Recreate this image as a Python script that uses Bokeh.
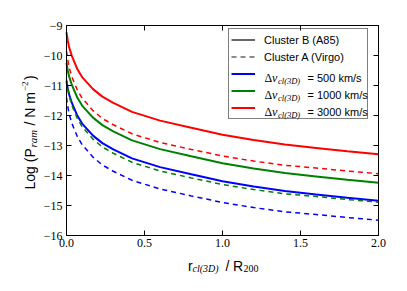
import math
from bokeh.plotting import figure
from bokeh.models import Range1d, LinearAxis, Legend, LegendItem, Label, FixedTicker
from bokeh.embed import file_html
from bokeh.resources import INLINE

# radius r_cl(3D)/R200
r = [0, 0.008, 0.017, 0.035, 0.07, 0.1, 0.17, 0.23, 0.3, 0.42, 0.6, 0.8, 1.0, 1.2, 1.4, 1.6, 1.8, 2.0]

# Cluster B (A85), solid
b3000 = [-9.23, -9.5, -9.73, -10.02, -10.46, -10.72, -11.12, -11.37, -11.58, -11.88, -12.17, -12.41, -12.64, -12.82, -12.97, -13.08, -13.19, -13.29]
b1000 = [-10.25, -10.5, -10.7, -10.99, -11.41, -11.67, -12.07, -12.32, -12.53, -12.83, -13.12, -13.36, -13.59, -13.77, -13.92, -14.03, -14.14, -14.24]
b500 = [-10.85, -11.1, -11.3, -11.59, -12.01, -12.27, -12.67, -12.92, -13.13, -13.43, -13.72, -13.96, -14.19, -14.37, -14.52, -14.63, -14.74, -14.84]

# Cluster A (Virgo), dashed
a3000 = [-9.85, -10.15, -10.4, -10.72, -11.16, -11.42, -11.84, -12.1, -12.31, -12.61, -12.9, -13.13, -13.35, -13.52, -13.66, -13.75, -13.85, -13.94]
a1000 = [-10.8, -11.1, -11.35, -11.67, -12.11, -12.37, -12.79, -13.05, -13.26, -13.56, -13.85, -14.08, -14.3, -14.47, -14.61, -14.7, -14.8, -14.89]
a500 = [-11.4, -11.7, -11.95, -12.27, -12.71, -12.97, -13.39, -13.65, -13.86, -14.16, -14.45, -14.68, -14.9, -15.07, -15.21, -15.3, -15.4, -15.49]

x_ticks = [0.0, 0.5, 1.0, 1.5, 2.0]
x_tick_labels = ["0.0", "0.5", "1.0", "1.5", "2.0"]
y_ticks = [-16, -15, -14, -13, -12, -11, -10, -9]
y_tick_labels = ["\u221216", "\u221215", "\u221214", "\u221213", "\u221212", "\u221211", "\u221210", "\u22129"]

legend_labels = ["Cluster B (A85)", "Cluster A (Virgo)"]
velocities = ["500 km/s", "1000 km/s", "3000 km/s"]

BLUE, GREEN, RED, GRAY = "#0000ff", "#008000", "#ff0000", "#666666"

# layout: figure 391x275; the axes box spans px 66..378 (x) and 25..235 (y)
W, H = 391, 275
L, R, T, B = 66, 378, 25, 235
XMIN, XMAX, YMIN, YMAX = 0.0, 2.0, -16.0, -9.0
sx = (XMAX - XMIN) / (R - L)
sy = (YMAX - YMIN) / (B - T)

p = figure(width=W, height=H, output_backend="svg", toolbar_location=None,
           x_range=Range1d(XMIN - L * sx, XMAX + (W - R) * sx),
           y_range=Range1d(YMIN - (H - B) * sy, YMAX + T * sy),
           x_axis_location=None, y_axis_location=None,
           min_border_left=0, min_border_right=0, min_border_top=0, min_border_bottom=0)
p.grid.visible = False
p.outline_line_color = None
p.background_fill_color = "white"
p.border_fill_color = "white"

def make_axis(ticks, labels, fixed, bounds, show_labels):
    ax = LinearAxis(fixed_location=fixed, bounds=bounds)
    ax.ticker = FixedTicker(ticks=ticks)
    ax.axis_line_color = "black"
    ax.axis_line_width = 1
    ax.major_tick_line_color = "black"
    ax.major_tick_in = 5
    ax.major_tick_out = 0
    ax.minor_tick_line_color = None
    ax.major_label_text_font = "Liberation Serif"
    ax.major_label_text_font_size = "12px"
    ax.major_label_text_color = "black" if show_labels else None
    if show_labels:
        ax.major_label_overrides = dict(zip(ticks, labels))
    return ax

xb = make_axis(x_ticks, x_tick_labels, YMIN, (XMIN, XMAX), True)
xb.major_label_standoff = 3
yl = make_axis(y_ticks, y_tick_labels, XMIN, (YMIN, YMAX), True)
yl.major_label_standoff = 4
xt = make_axis(x_ticks, x_tick_labels, YMAX, (XMIN, XMAX), False)
yr = make_axis(y_ticks, y_tick_labels, XMAX, (YMIN, YMAX), False)
p.add_layout(xb, "below")
p.add_layout(yl, "left")
p.add_layout(xt, "above")
p.add_layout(yr, "right")

rb500 = p.line(r, b500, color=BLUE, line_width=2)
rb1000 = p.line(r, b1000, color=GREEN, line_width=2)
rb3000 = p.line(r, b3000, color=RED, line_width=2)
p.line(r, a500, color=BLUE, line_width=1.5, line_dash="5 4")
p.line(r, a1000, color=GREEN, line_width=1.5, line_dash="5 4")
p.line(r, a3000, color=RED, line_width=1.5, line_dash="5 4")

# legend proxies (no visible data)
gsolid = p.line([math.nan], [math.nan], color=GRAY, line_width=2)
gdash = p.line([math.nan], [math.nan], color=GRAY, line_width=1.5, line_dash="5 4")

legend = Legend(items=[
    LegendItem(label=legend_labels[0], renderers=[gsolid]),
    LegendItem(label=legend_labels[1], renderers=[gdash]),
    LegendItem(label=" ", renderers=[rb500]),
    LegendItem(label=" ", renderers=[rb1000]),
    LegendItem(label=" ", renderers=[rb3000]),
], location=(228, H - 119), orientation="vertical", padding=2, spacing=0, margin=0,
   glyph_width=24, glyph_height=17, label_height=17, label_width=101, label_standoff=9,
   label_text_font="Liberation Sans", label_text_font_size="11px", label_text_color="black",
   border_line_color="black", border_line_width=1, background_fill_color="white",
   background_fill_alpha=0.0, level="annotation")
p.add_layout(legend)

def txt(dx, dy, s, font="Liberation Sans", size="14px", style="normal", angle=0.0):
    # anchored at the bottom-left corner of the axes box, offsets in pixels
    p.add_layout(Label(x=XMIN, y=YMIN, x_offset=dx, y_offset=dy, text=s,
                       text_font=font, text_font_size=size, text_font_style=style,
                       text_color="black", text_align="left", text_baseline="alphabetic",
                       angle=angle, level="overlay"))

# velocity legend texts
for i, v in enumerate(velocities):
    yb = 157.5 - 17 * i
    txt(198, yb, "\u0394", font="Liberation Serif", size="12px")
    txt(205.5, yb, "v", font="Liberation Serif", size="12px", style="italic")
    txt(211.5, yb - 2.5, "cl(3D)", font="Liberation Serif", size="8.5px", style="italic")
    txt(241, yb, "= " + v, font="Liberation Sans", size="11px")

# x axis label: r_cl(3D) / R_200
txt(121.5, -30, "r")
txt(126, -32.5, "cl(3D)", font="Liberation Serif", size="10px", style="italic")
txt(159, -30, "/")
txt(166.5, -30, "R")
txt(177, -32.5, "200", font="Liberation Serif", size="10px")

# y axis label: Log (P_ram / N m^-2)
A = math.pi / 2
txt(-37, 46, "Log (P", angle=A)
txt(-34, 88, "ram", font="Liberation Serif", size="11px", style="italic", angle=A)
txt(-37, 110, "/ N m", angle=A)
txt(-42, 144.5, "\u22122", font="Liberation Serif", size="9px", angle=A)
txt(-37, 155.5, ")", angle=A)

open("out.html", "w").write(file_html(p, INLINE))
